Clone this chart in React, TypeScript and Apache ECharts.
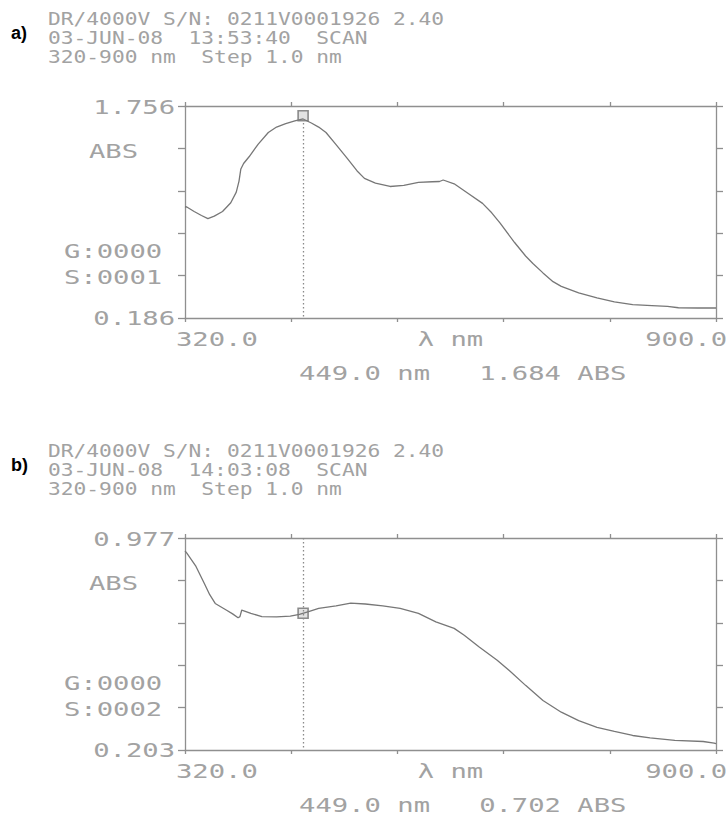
import React, { useEffect, useRef } from "react";
import * as echarts from "echarts";

// ---------- data ----------
const WL_A = [320, 322, 330, 338, 345, 352, 361, 370, 376, 379, 381, 384, 390, 400, 411, 420, 430, 440, 449, 458, 466, 474, 485, 497, 508, 516, 528, 544, 559, 575, 590, 598, 602, 614, 629, 645, 655, 664, 680, 692, 700, 711, 722, 731, 750, 770, 789, 809, 830, 847, 859, 880, 900];
const ABS_A = [1.010, 1.008, 0.975, 0.945, 0.922, 0.940, 0.975, 1.040, 1.118, 1.200, 1.290, 1.330, 1.380, 1.474, 1.560, 1.600, 1.625, 1.645, 1.660, 1.630, 1.600, 1.560, 1.470, 1.370, 1.275, 1.220, 1.185, 1.160, 1.168, 1.190, 1.195, 1.197, 1.208, 1.180, 1.110, 1.035, 0.965, 0.890, 0.745, 0.645, 0.590, 0.520, 0.455, 0.420, 0.372, 0.335, 0.305, 0.285, 0.278, 0.272, 0.262, 0.260, 0.260];

const WL_B = [320, 322, 332, 341, 347, 353, 365, 372, 378, 380, 382, 392, 404, 420, 435, 445, 455, 466, 485, 501, 517, 536, 555, 575, 594, 614, 625, 641, 661, 676, 692, 711, 731, 750, 770, 789, 809, 828, 855, 886, 898, 900];
const ABS_B = [0.930, 0.922, 0.873, 0.812, 0.770, 0.738, 0.714, 0.700, 0.686, 0.690, 0.714, 0.702, 0.690, 0.689, 0.692, 0.698, 0.708, 0.720, 0.729, 0.739, 0.736, 0.729, 0.720, 0.702, 0.671, 0.647, 0.622, 0.580, 0.531, 0.488, 0.439, 0.384, 0.341, 0.310, 0.286, 0.271, 0.256, 0.247, 0.238, 0.234, 0.228, 0.226];

const X_MIN = 320;
const X_MAX = 900;
const X_TICKS = [320, 436, 552, 668, 784, 900];
const X_LABELS = ["320.0", "900.0"];

const A_Y_MIN = 0.186;
const A_Y_MAX = 1.756;
const A_Y_TICKS = [0.186, 0.5, 0.814, 1.128, 1.442, 1.756];
const B_Y_MIN = 0.203;
const B_Y_MAX = 0.977;
const B_Y_TICKS = [0.203, 0.3578, 0.5126, 0.6674, 0.8222, 0.977];

const CURSOR_WL = 449.0;
const CURSOR_A = 1.684;
const CURSOR_B = 0.702;

const HEADER_A = ["DR/4000V S/N: 0211V0001926 2.40", "03-JUN-08  13:53:40  SCAN", "320-900 nm  Step 1.0 nm"];
const HEADER_B = ["DR/4000V S/N: 0211V0001926 2.40", "03-JUN-08  14:03:08  SCAN", "320-900 nm  Step 1.0 nm"];
const SIDE_A = ["ABS", "G:0000", "S:0001"];
const SIDE_B = ["ABS", "G:0000", "S:0002"];
const PANEL_TAGS = ["a)", "b)"];

// ---------- style ----------
const MONO = '"DejaVu Sans Mono", monospace';
const TXT = "#a2a2a2";
const AX = "#8f8f8f";
const CURVE = "#777777";

function txt(text: string, x: number, y: number, size: number, sx: number, align: string, color = TXT, family = MONO, weight = "normal") {
  return {
    type: "text",
    x,
    y,
    scaleX: sx,
    silent: true,
    style: {
      text,
      x: 0,
      y: 0,
      fill: color,
      fontSize: size,
      fontFamily: family,
      fontWeight: weight,
      align,
      textAlign: align,
      verticalAlign: "middle",
      textVerticalAlign: "middle",
    },
  };
}

function axesFor(gi: number, ymin: number, ymax: number, yticks: number[]) {
  const ls = { color: AX, width: 1.3 };
  const base = { type: "value", gridIndex: gi, min: X_MIN, max: X_MAX, splitLine: { show: false }, axisLabel: { show: false } };
  const xs = [
    { ...base, position: "bottom", axisLine: { show: true, onZero: false, lineStyle: ls }, axisTick: { show: true, length: 4, customValues: X_TICKS, lineStyle: ls } },
    { ...base, position: "top", axisLine: { show: true, onZero: false, lineStyle: ls }, axisTick: { show: true, length: 4, customValues: X_TICKS, lineStyle: ls } },
  ];
  const ybase = { type: "value", gridIndex: gi, min: ymin, max: ymax, splitLine: { show: false }, axisLabel: { show: false } };
  const ys = [
    { ...ybase, position: "left", axisLine: { show: true, onZero: false, lineStyle: ls }, axisTick: { show: true, length: 7, customValues: yticks, lineStyle: ls } },
    { ...ybase, position: "right", axisLine: { show: true, onZero: false, lineStyle: ls }, axisTick: { show: true, length: 7, customValues: yticks, lineStyle: ls } },
  ];
  return { xs, ys };
}

export default function App() {
  const ref = useRef<HTMLDivElement>(null);
  useEffect(() => {
    if (!ref.current) return;
    const chart = echarts.init(ref.current, null, { renderer: "svg" });
    const a = axesFor(0, A_Y_MIN, A_Y_MAX, A_Y_TICKS);
    const b = axesFor(1, B_Y_MIN, B_Y_MAX, B_Y_TICKS);
    const dotted = { color: "#8a8a8a", width: 1.3, type: [1.5, 2.5] };
    const markerStyle = { color: "rgba(150,150,150,0.35)", borderColor: "#707070", borderWidth: 1.6 };
    chart.setOption({
      animation: false,
      backgroundColor: "#ffffff",
      grid: [
        { left: 185, top: 106, width: 531, height: 212 },
        { left: 185, top: 538, width: 531, height: 212 },
      ],
      xAxis: [...a.xs, ...b.xs],
      yAxis: [...a.ys, ...b.ys],
      series: [
        {
          type: "line",
          xAxisIndex: 0,
          yAxisIndex: 0,
          data: WL_A.map((w, i) => [w, ABS_A[i]]),
          symbol: "none",
          lineStyle: { color: CURVE, width: 1.3 },
          markLine: {
            silent: true,
            symbol: "none",
            label: { show: false },
            lineStyle: dotted,
            data: [[{ coord: [CURSOR_WL, ABS_A[WL_A.indexOf(449)]] }, { coord: [CURSOR_WL, A_Y_MIN] }]],
          },
        },
        {
          type: "scatter",
          xAxisIndex: 0,
          yAxisIndex: 0,
          data: [[CURSOR_WL, CURSOR_A]],
          symbol: "rect",
          symbolSize: 10,
          itemStyle: markerStyle,
        },
        {
          type: "line",
          xAxisIndex: 2,
          yAxisIndex: 2,
          data: WL_B.map((w, i) => [w, ABS_B[i]]),
          symbol: "none",
          lineStyle: { color: CURVE, width: 1.3 },
          markLine: {
            silent: true,
            symbol: "none",
            label: { show: false },
            lineStyle: dotted,
            data: [[{ coord: [CURSOR_WL, B_Y_MAX] }, { coord: [CURSOR_WL, B_Y_MIN] }]],
          },
        },
        {
          type: "scatter",
          xAxisIndex: 2,
          yAxisIndex: 2,
          data: [[CURSOR_WL, CURSOR_B]],
          symbol: "rect",
          symbolSize: 10,
          itemStyle: markerStyle,
        },
      ],
    });

    const HS = 18, HSX = 1.18; // header font
    const LS = 20, LSX = 1.36; // label font
    const g: any[] = [];
    const panels = [
      { gi: 0, header: HEADER_A, side: SIDE_A, ymin: A_Y_MIN, ymax: A_Y_MAX, cur: CURSOR_A, tag: PANEL_TAGS[0] },
      { gi: 1, header: HEADER_B, side: SIDE_B, ymin: B_Y_MIN, ymax: B_Y_MAX, cur: CURSOR_B, tag: PANEL_TAGS[1] },
    ];
    panels.forEach((p) => {
      const tl = chart.convertToPixel({ gridIndex: p.gi }, [X_MIN, p.ymax]) as number[];
      const br = chart.convertToPixel({ gridIndex: p.gi }, [X_MAX, p.ymin]) as number[];
      const top = tl[1], bottom = br[1], left = tl[0], right = br[0];
      // header
      p.header.forEach((line, i) => g.push(txt(line, 48, top - 86.5 + i * 19, HS, HSX, "left")));
      g.push(txt(p.tag, 11, top - 73, 18, 1, "left", "#000000", '"Liberation Sans", Arial, sans-serif', "bold"));
      // y min / max labels
      g.push(txt(p.ymax.toFixed(3), left - 10, top + 1.5, LS, LSX, "right"));
      g.push(txt(p.ymin.toFixed(3), left - 10, bottom + 0.5, LS, LSX, "right"));
      g.push(txt(p.side[0], 89, top + 45.5, LS, LSX, "left"));
      g.push(txt(p.side[1], 64, top + 145, LS, LSX, "left"));
      g.push(txt(p.side[2], 64, top + 171, LS, LSX, "left"));
      // x labels
      g.push(txt(X_LABELS[0], left - 9, bottom + 21, LS, LSX, "left"));
      g.push(txt(X_LABELS[1], right + 11, bottom + 21, LS, LSX, "right"));
      g.push(txt("λ nm", (left + right) / 2, bottom + 21, LS, LSX, "center"));
      // readout
      const cx = chart.convertToPixel({ gridIndex: p.gi }, [CURSOR_WL, p.cur]) as number[];
      g.push(txt(`${CURSOR_WL.toFixed(1)} nm   ${p.cur.toFixed(3)} ABS`, cx[0] - 4, bottom + 55, LS, LSX, "left"));
    });
    chart.setOption({ graphic: g });
    return () => chart.dispose();
  }, []);
  return <div ref={ref} style={{ position: "absolute", left: 0, top: 0, width: 727, height: 816, background: "#fff" }} />;
}
